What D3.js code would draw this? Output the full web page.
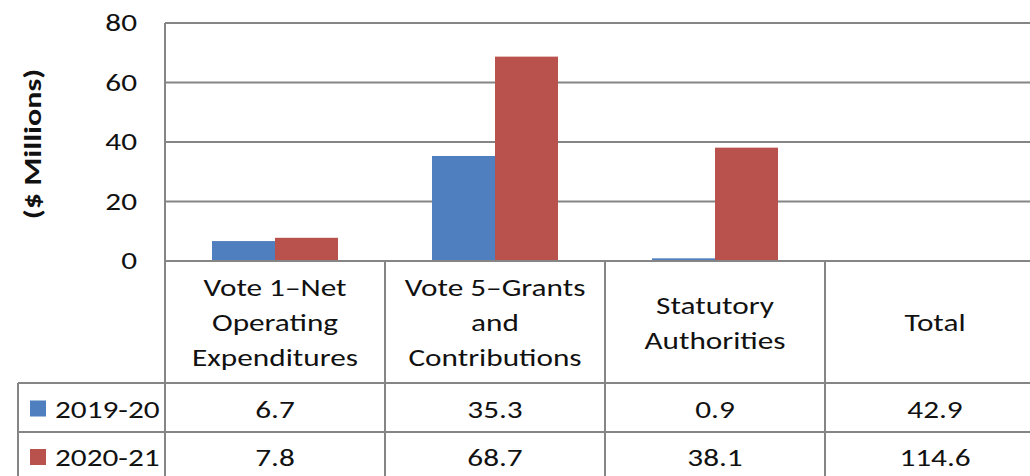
<!DOCTYPE html>
<html>
<head>
<meta charset="utf-8">
<script src="https://cdn.jsdelivr.net/npm/d3@7"></script>
<style>
  body { margin: 0; background: #fff; }
  text { font-family: Carlito, Calibri, Lato, sans-serif; fill: #111; }
</style>
</head>
<body>
<svg id="chart" width="1030" height="476"></svg>
<script>
// categories shown in the data table (the chart bars stop before "Total")
var categories = ["Vote 1\u2013Net Operating Expenditures", "Vote 5\u2013Grants and Contributions", "Statutory Authorities", "Total"];
var headerLines = [["Vote 1\u2013Net", "Operating", "Expenditures"], ["Vote 5\u2013Grants", "and", "Contributions"], ["Statutory", "Authorities"], ["Total"]];
var barCategories = categories.slice(0, 3);
var seriesNames = ["2019-20", "2020-21"];
var values2019 = [6.7, 35.3, 0.9, 42.9];
var values2020 = [7.8, 68.7, 38.1, 114.6];
var yTicks = [0, 20, 40, 60, 80];

var colors = { "2019-20": "#4f7fbe", "2020-21": "#b9514d" };
var gridColor = "#858585";
var stretch = 1.25; // the source picture is wide, so the lettering is too

var svg = d3.select("#chart");
var plotLeft = 165, plotTop = 23, plotBottom = 261, tableLeft = 18;
var W = 1030, H = 476;

// x: each category column is a band, Total column runs off the right edge
var x0 = d3.scaleBand().domain(categories).range([plotLeft, plotLeft + 220 * 4]);
var x1 = d3.scaleBand().domain(seriesNames).range([47, 173]);
var y = d3.scaleLinear().domain([0, 80]).range([plotBottom, plotTop]);

// places a horizontally stretched label
function label(parent, px, py, anchor, str, size) {
  return parent.append("text")
    .attr("transform", "translate(" + px + "," + py + ") scale(" + stretch + ",1)")
    .attr("text-anchor", anchor).attr("dominant-baseline", "central")
    .style("font-size", (size || 25) + "px")
    .text(str);
}

// gridlines
svg.append("g").selectAll("line").data(yTicks).join("line")
  .attr("x1", plotLeft).attr("x2", W)
  .attr("y1", d => y(d)).attr("y2", d => y(d))
  .attr("stroke", gridColor).attr("stroke-width", 2);

// y tick labels
yTicks.forEach(t => label(svg, 137, y(t), "end", t));

// y axis title
svg.append("text")
  .attr("transform", "translate(33,144) rotate(-90) scale(1.34,1)")
  .attr("text-anchor", "middle").attr("dominant-baseline", "central")
  .style("font-size", "24px").style("font-weight", "bold")
  .text("($ Millions)");

// bars
var barData = [];
barCategories.forEach((c, i) => {
  barData.push({ cat: c, s: "2019-20", v: values2019[i] });
  barData.push({ cat: c, s: "2020-21", v: values2020[i] });
});
svg.append("g").selectAll("rect").data(barData).join("rect")
  .attr("x", d => x0(d.cat) + x1(d.s))
  .attr("width", x1.bandwidth())
  .attr("y", d => y(d.v))
  .attr("height", d => y(0) - y(d.v))
  .attr("fill", d => colors[d.s]);

// table grid
var rowTops = [383, 432, 480];
var tbl = svg.append("g").attr("stroke", gridColor).attr("stroke-width", 2);
tbl.append("line").attr("x1", plotLeft).attr("x2", plotLeft).attr("y1", plotTop).attr("y2", H);
tbl.append("line").attr("x1", plotLeft).attr("x2", W).attr("y1", plotBottom).attr("y2", plotBottom);
rowTops.forEach(r => {
  tbl.append("line").attr("x1", tableLeft).attr("x2", W).attr("y1", r).attr("y2", r);
});
tbl.append("line").attr("x1", tableLeft).attr("x2", tableLeft).attr("y1", rowTops[0]).attr("y2", H);
categories.slice(1).forEach(c => {
  tbl.append("line").attr("x1", x0(c)).attr("x2", x0(c)).attr("y1", plotBottom).attr("y2", H);
});

// header text
var lineGap = 35, headerMid = (plotBottom + rowTops[0]) / 2 + 1;
categories.forEach((c, i) => {
  var lines = headerLines[i];
  lines.forEach((ln, j) => {
    label(svg, x0(c) + x0.bandwidth() / 2, headerMid + (j - (lines.length - 1) / 2) * lineGap, "middle", ln);
  });
});

// data rows with legend keys
var rows = [values2019, values2020];
rows.forEach((vals, r) => {
  var mid = (rowTops[r] + rowTops[r + 1]) / 2 + 2;
  svg.append("rect")
    .attr("x", 30).attr("y", mid - 9).attr("width", 16).attr("height", 16)
    .attr("fill", colors[seriesNames[r]]);
  label(svg, 55, mid, "start", seriesNames[r]);
  vals.forEach((v, i) => {
    label(svg, x0(categories[i]) + x0.bandwidth() / 2, mid, "middle", v.toFixed(1));
  });
});
</script>
</body>
</html>
